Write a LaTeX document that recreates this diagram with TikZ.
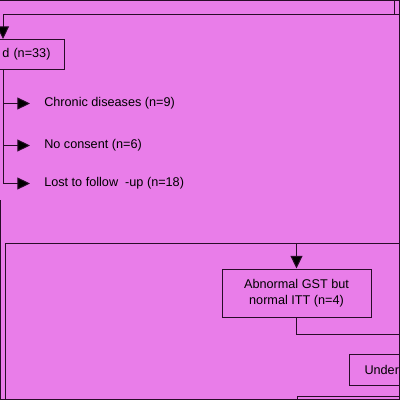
\documentclass[tikz,border=0pt]{standalone}
\usepackage{fontspec}
\setmainfont{Liberation Sans}
\usetikzlibrary{arrows.meta,calc}
\definecolor{bgpink}{RGB}{233,125,233}
\definecolor{ink}{RGB}{40,12,40}
\begin{document}
\begin{tikzpicture}[x=0.75pt,y=-0.75pt,
  every node/.style={font=\fontsize{9.5pt}{12pt}\selectfont, text=black},
  box/.style={draw=ink, line width=0.75pt, fill=none},
  ln/.style={draw=ink, line width=0.75pt},
  arr/.style={ln, -{Triangle[length=9.5pt,width=9pt,fill=black]}},
  lbl/.style={anchor=west, inner sep=0pt}]
\useasboundingbox (0,0) rectangle (400,400);
\fill[bgpink] (0,0) rectangle (400,400);
\clip (0,0) rectangle (400,400);
% outer frame parts
\draw[ink, line width=1pt] (0,0.5) -- (400,0.5);
\draw[ink, line width=0.9pt] (399.5,0) -- (399.5,400);
\draw[ink, line width=0.9pt] (0,399.5) -- (400,399.5);
\draw[ink, line width=0.9pt] (0.6,200) -- (0.6,400);
% top connector
\coordinate (tr) at (394,0);
\coordinate (j) at (3,14);
\coordinate (jr) at (399,14);
\draw[ln] (tr) -- (tr |- j);
\draw[ln] (j) -- (jr);
% excluded box
\node[box, anchor=north east, minimum width=63.75pt, minimum height=22.5pt,
      text width=42.75pt, inner xsep=10.5pt, align=right] (n33) at (65,39) {d (n=33)};
\draw[arr] (j) -- (j |- n33.north);
% reasons
\node[lbl] (cd) at (44,103.5) {Chronic diseases (n=9)};
\node[lbl] (nc) at (44,145.5) {No consent (n=6)};
\node[lbl] (lf) at (44,183.5) {Lost to follow\ \ -up (n=18)};
\draw[ln] (j |- n33.south) -- (j |- lf.west);
\draw[arr, shorten >=10.5pt] (j |- cd.west) -- (cd.west);
\draw[arr, shorten >=10.5pt] (j |- nc.west) -- (nc.west);
\draw[arr, shorten >=10.5pt] (j |- lf.west) -- (lf.west);
% group box
\node[draw=ink, line width=1.1pt, anchor=north west, minimum width=350pt, minimum height=150pt] (grp) at (5,243) {};
% abnormal GST
\node[box, minimum width=111.75pt, minimum height=36pt, align=center, inner sep=0pt] (abn) at (296.5,293)
  {Abnormal GST but\\[0pt]normal ITT (n=4)};
\draw[arr] (abn.north |- grp.north) -- (abn.north);
\coordinate (e1) at (400,334);
\draw[ln] (abn.south) |- (e1);
% under box
\node[box, anchor=north west, minimum height=23.25pt, text width=90pt, inner xsep=11.25pt, align=left] (und) at (349,354) {Under};
% bottom box
\node[box, anchor=north west, minimum width=120pt, minimum height=30pt] (bot) at (297,395.5) {};
\end{tikzpicture}
\end{document}
